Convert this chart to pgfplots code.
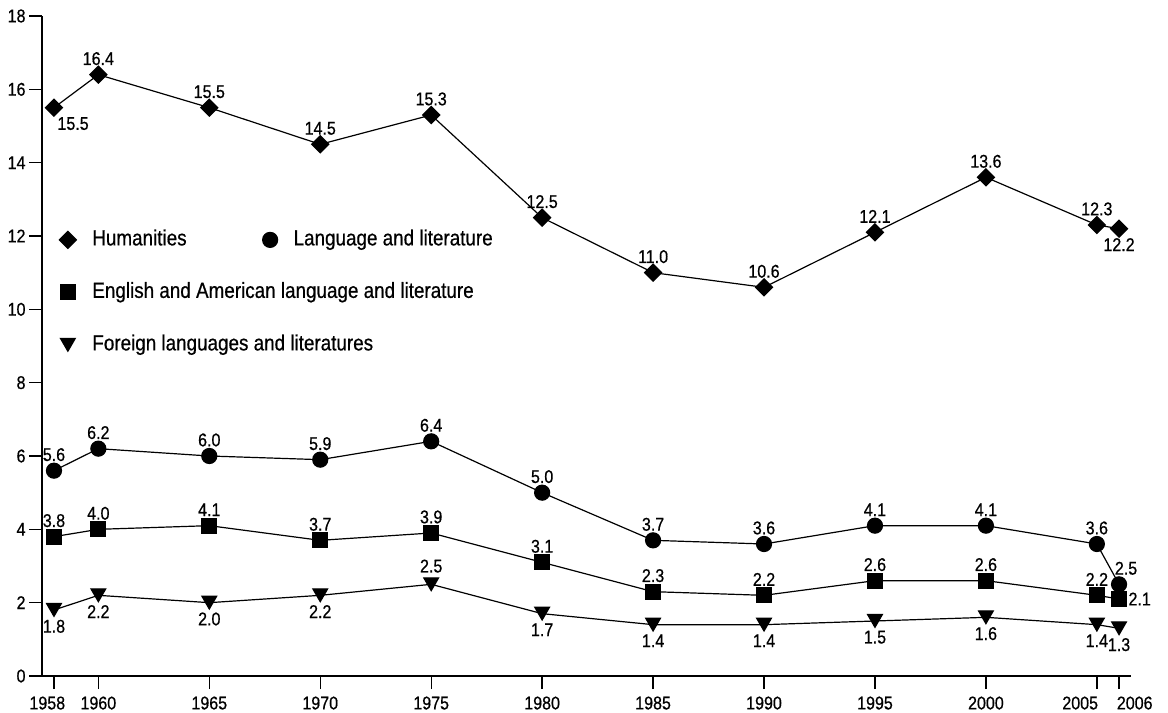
\documentclass[border=0pt]{standalone}
\usepackage{pgfplots}
\usepackage{pgfplotstable}
\pgfplotsset{compat=1.18}
\usepackage{fontspec}
\setmainfont{Liberation Sans}[FakeStretch=0.87,FakeBold=0.6]
\newfontfamily\legendfont{Liberation Sans}[FakeStretch=0.86,FakeBold=0.6]

\pgfplotstableread{
x y
1958 15.5
1960 16.4
1965 15.5
1970 14.5
1975 15.3
1980 12.5
1985 11.0
1990 10.6
1995 12.1
2000 13.6
2005 12.3
2006 12.2
}\hum
\pgfplotstableread{
x y
1958 5.6
1960 6.2
1965 6.0
1970 5.9
1975 6.4
1980 5.0
1985 3.7
1990 3.6
1995 4.1
2000 4.1
2005 3.6
2006 2.5
}\lang
\pgfplotstableread{
x y
1958 3.8
1960 4.0
1965 4.1
1970 3.7
1975 3.9
1980 3.1
1985 2.3
1990 2.2
1995 2.6
2000 2.6
2005 2.2
2006 2.1
}\eng
\pgfplotstableread{
x y
1958 1.8
1960 2.2
1965 2.0
1970 2.2
1975 2.5
1980 1.7
1985 1.4
1990 1.4
1995 1.5
2000 1.6
2005 1.4
2006 1.3
}\fore

\begin{document}
\begin{tikzpicture}
\begin{axis}[
  scale only axis, width=1089bp, height=660bp,
  at={(0,0)}, anchor=south west,
  xmin=1957.46, xmax=2006.54, ymin=0, ymax=18,
  axis lines=left, axis line style={-, line width=1.4bp},
  tick align=outside, major tick length=13bp,
  tick style={line width=1.3bp, black},
  xtick={1958,1960,1965,1970,1975,1980,1985,1990,1995,2000,2005,2006},
  xticklabels={\makebox[49bp][l]{1958},1960,1965,1970,1975,1980,1985,1990,1995,2000,\makebox[69bp][l]{2005},\makebox[67bp][r]{2006}},
  ytick={0,2,...,18},
  /pgf/number format/1000 sep={},
  /pgf/number format/assume math mode=true,
  tick label style={font=\fontsize{18.5}{21}\selectfont},
  xticklabel style={yshift=-4bp},
  clip=false,
  every axis plot/.append style={line width=1.2bp, black},
  legend image code/.code={\path[#1] plot coordinates {(0bp,0bp)};},
  legend columns=2,
  legend style={at={(axis cs:1958.1,12.24)}, anchor=north west, draw=none, fill=none,
    font=\legendfont\fontsize{22}{25}\selectfont, row sep=31.5bp,
    nodes={inner sep=1bp, text height=15bp, text depth=4bp},
    /tikz/every odd column/.append style={column sep=15bp},
    /tikz/every even column/.append style={column sep=75bp}},
  legend cell align=left,
  lbl/.style={
    nodes near coords={\pgfmathprintnumber[fixed,fixed zerofill,precision=1]{\pgfplotspointmeta}},
    visualization depends on={value \coordindex\as\ci},
    every node near coord/.append style={font=\fontsize{18.5}{21}\selectfont, inner sep=1bp, outer sep=8.5bp,
      /utils/exec={#1}}},
]
\addlegendimage{black, mark=square*, mark size=6bp, mark options={rotate=45}}
\addlegendentry{Humanities}
\addlegendimage{black, mark=*, mark size=7.5bp}
\addlegendentry{Language and literature}
\addlegendimage{black, mark=square*, mark size=7.3bp}
\addlegendentry{\rlap{English and American language and literature}}
\addlegendimage{empty legend}
\addlegendentry{}
\addlegendimage{black, mark=triangle*, mark size=8.5bp, mark options={rotate=180, yshift=-2.2bp}}
\addlegendentry{\rlap{Foreign languages and literatures}}

\addplot[forget plot, mark=square*, mark size=6bp, mark options={rotate=45},
  lbl={\ifnum\ci=0 \pgfkeysalso{/tikz/anchor=north west,/tikz/xshift=-6bp}\else\ifnum\ci=11 \pgfkeysalso{/tikz/anchor=north}\else\pgfkeysalso{/tikz/anchor=south}\fi\fi}]
  table[x=x,y=y] {\hum};
\addplot[forget plot, mark=*, mark size=7.5bp,
  lbl={\ifnum\ci=11 \pgfkeysalso{/tikz/anchor=south,/tikz/xshift=7bp}\else\pgfkeysalso{/tikz/anchor=south}\fi}]
  table[x=x,y=y] {\lang};
\addplot[forget plot, mark=square*, mark size=7.3bp,
  lbl={\ifnum\ci=11 \pgfkeysalso{/tikz/anchor=west}\else\pgfkeysalso{/tikz/anchor=south}\fi}]
  table[x=x,y=y] {\eng};
\addplot[forget plot, mark=triangle*, mark size=8.5bp, mark options={rotate=180, yshift=-2.2bp},
  lbl={\ifnum\ci=4 \pgfkeysalso{/tikz/anchor=south}\else\pgfkeysalso{/tikz/anchor=north,/tikz/yshift=-2.5bp}\fi}]
  table[x=x,y=y] {\fore};
\end{axis}
\path[use as bounding box] (-42bp,-37bp) rectangle (1126bp,676bp);
\end{tikzpicture}
\end{document}
